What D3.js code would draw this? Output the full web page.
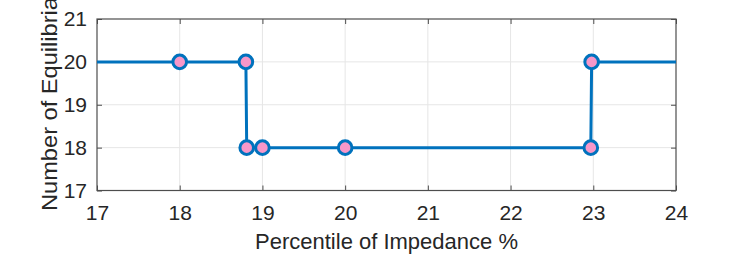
<!DOCTYPE html>
<html>
<head>
<meta charset="utf-8">
<script src="https://cdn.jsdelivr.net/npm/d3@7"></script>
<style>
  body { margin: 0; background: #fff; }
  text { font-family: "Liberation Sans", Arial, sans-serif; fill: #262626; }
</style>
</head>
<body>
<div id="chart"></div>
<script>
// data
const percentile = [17, 18, 18.8, 18.81, 19, 20, 22.97, 22.98, 24];
const equilibria = [20, 20, 20, 18, 18, 18, 18, 20, 20];
const marked = [false, true, true, true, true, true, true, true, false];
const xTicks = [17, 18, 19, 20, 21, 22, 23, 24];
const yTicks = [17, 18, 19, 20, 21];

const width = 747;
const height = 256;
const margin = { top: 19, right: 71, bottom: 65.5, left: 97 };

const svg = d3.select("#chart")
  .append("svg")
    .attr("width", width)
    .attr("height", height);

const x = d3.scaleLinear()
  .domain([17, 24])
  .range([margin.left, width - margin.right]);

const y = d3.scaleLinear()
  .domain([17, 21])
  .range([height - margin.bottom, margin.top]);

// grid
const grid = svg.append("g").attr("class", "grid");
grid.selectAll(".gx")
  .data(xTicks.slice(1, -1)).enter()
  .append("line")
    .attr("x1", d => x(d)).attr("x2", d => x(d))
    .attr("y1", y(17)).attr("y2", y(21))
    .style("stroke", "#e6e6e6").style("stroke-width", 1);
grid.selectAll(".gy")
  .data(yTicks.slice(1, -1)).enter()
  .append("line")
    .attr("x1", x(17)).attr("x2", x(24))
    .attr("y1", d => y(d)).attr("y2", d => y(d))
    .style("stroke", "#e6e6e6").style("stroke-width", 1);

// axes, matlab style ticks on every side pointing in
const tickLen = 5;
const axisStyle = g => {
  g.attr("font-size", 21).attr("font-family", null);
  g.select(".domain").remove();
  g.selectAll(".tick line").style("stroke", "#4d4d4d");
  g.selectAll(".tick text")
    .style("font-size", "21px")
    .style("fill", "#262626");
};

svg.append("g")
  .attr("transform", `translate(0,${y(17)})`)
  .call(d3.axisBottom(x).tickValues(xTicks).tickFormat(d3.format("d"))
          .tickSizeInner(-tickLen).tickSizeOuter(0).tickPadding(14.5))
  .call(axisStyle);

svg.append("g")
  .attr("transform", `translate(0,${y(21)})`)
  .call(d3.axisTop(x).tickValues(xTicks).tickFormat("")
          .tickSizeInner(-tickLen).tickSizeOuter(0))
  .call(axisStyle);

svg.append("g")
  .attr("transform", `translate(${x(17)},0)`)
  .call(d3.axisLeft(y).tickValues(yTicks).tickFormat(d3.format("d"))
          .tickSizeInner(-tickLen).tickSizeOuter(0).tickPadding(10))
  .call(axisStyle);

svg.append("g")
  .attr("transform", `translate(${x(24)},0)`)
  .call(d3.axisRight(y).tickValues(yTicks).tickFormat("")
          .tickSizeInner(-tickLen).tickSizeOuter(0))
  .call(axisStyle);

// box
svg.append("rect")
  .attr("x", x(17)).attr("y", y(21))
  .attr("width", x(24) - x(17))
  .attr("height", y(17) - y(21))
  .style("fill", "none")
  .style("stroke", "#4d4d4d")
  .style("stroke-width", 1.2);

// series
const points = percentile.map((p, i) => ({ x: p, y: equilibria[i], m: marked[i] }));

const line = d3.line()
  .x(d => x(d.x))
  .y(d => y(d.y));

svg.append("path")
  .datum(points)
  .attr("d", line)
  .style("fill", "none")
  .style("stroke", "#0072bd")
  .style("stroke-width", 3);

svg.append("g")
  .selectAll(".marker")
  .data(points.filter(d => d.m)).enter()
  .append("circle")
    .attr("class", "marker")
    .attr("cx", d => x(d.x))
    .attr("cy", d => y(d.y))
    .attr("r", 6.8)
    .style("fill", "#f797c9")
    .style("stroke", "#0072bd")
    .style("stroke-width", 3);

// labels
svg.append("text")
  .attr("x", (x(17) + x(24)) / 2)
  .attr("y", 248.5)
  .attr("text-anchor", "middle")
  .style("font-size", "22px")
  .text("Percentile of Impedance %");

svg.append("text")
  .attr("transform", "translate(57,211)rotate(-90)")
  .attr("text-anchor", "start")
  .attr("textLength", 214)
  .attr("lengthAdjust", "spacingAndGlyphs")
  .style("font-size", "22px")
  .text("Number of Equilibria");
</script>
</body>
</html>
